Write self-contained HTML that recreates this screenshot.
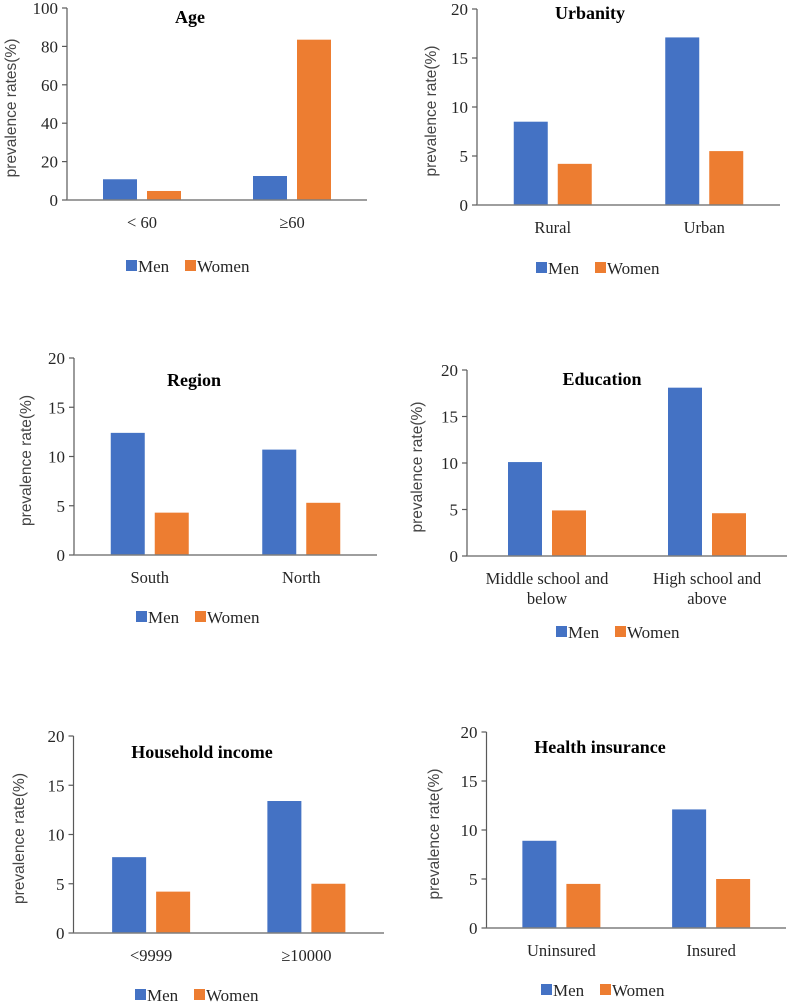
<!DOCTYPE html>
<html><head><meta charset="utf-8">
<style>
html,body{margin:0;padding:0;background:#fff;}
svg{display:block;}
text{font-family:"Liberation Serif",serif;fill:#262626;}
.tick{font-size:17px;}
.cat{font-size:16.5px;}
.ttl{font-size:18px;font-weight:bold;fill:#000;}
.ytl{font-family:"Liberation Sans",sans-serif;font-size:15.5px;fill:#444;}
.leg{font-size:17px;}
</style></head>
<body>
<svg id="fig" width="789" height="1002" viewBox="0 0 789 1002" xmlns="http://www.w3.org/2000/svg"></svg>
<script>
const panelTitles = ["Age","Urbanity","Region","Education","Household income","Health insurance"];
const yTitles = ["prevalence rates(%)","prevalence rate(%)","prevalence rate(%)","prevalence rate(%)","prevalence rate(%)","prevalence rate(%)"];
const categories = [["< 60","≥60"],["Rural","Urban"],["South","North"],[["Middle school and","below"],["High school and","above"]],["<9999","≥10000"],["Uninsured","Insured"]];
const menValues = [[10.8,12.5],[8.5,17.1],[12.4,10.7],[10.1,18.1],[7.7,13.4],[8.9,12.1]];
const womenValues = [[4.7,83.5],[4.2,5.5],[4.3,5.3],[4.9,4.6],[4.2,5.0],[4.5,5.0]];
const yMax = [100,20,20,20,20,20];
const yStep = [20,5,5,5,5,5];

// layout (pixels) per panel
const layout = [
 {l:67,r:367,y0:200,yt:8,title:[190,16],ytx:10,legY:266,legX:127},
 {l:477,r:780,y0:205,yt:9,title:[590,12],ytx:430,legY:268,legX:537},
 {l:74,r:377,y0:555,yt:358,title:[194,379],ytx:25,legY:617,legX:137},
 {l:467,r:787,y0:556,yt:370,title:[602,378],ytx:416,legY:632,legX:557},
 {l:73.5,r:384,y0:933,yt:736,title:[202,751],ytx:18,legY:995,legX:136},
 {l:486.5,r:786,y0:928,yt:732,title:[600,746],ytx:433,legY:990,legX:542}
];
const BLUE="#4472C4", ORANGE="#ED7D31";
const svg=document.getElementById('fig');
const NS="http://www.w3.org/2000/svg";
function mk(tag,attrs,parent){const e=document.createElementNS(NS,tag);for(const k in attrs)e.setAttribute(k,attrs[k]);(parent||svg).appendChild(e);return e;}

panelTitles.forEach((pt,p)=>{
  const L=layout[p];
  const g=mk('g',{});
  
  
  const y=v=>L.y0-(v/yMax[p])*(L.y0-L.yt);
  const band=(L.r-L.l)/categories[p].length;
  const xc=i=>L.l+band*(i+0.5);
  const bw=34, gap=10;
  const ya=mk('line',{x1:L.l,x2:L.l,y1:L.yt,y2:L.y0,stroke:'#595959','stroke-width':1.2},g);
  
  
  for(let v=0;v<=yMax[p];v+=yStep[p]){
    mk('line',{x1:L.l-5,x2:L.l,y1:y(v),y2:y(v),stroke:'#595959','stroke-width':1.2},g);
    const t=mk('text',{x:L.l-9,y:y(v)+6,'text-anchor':'end',class:'tick'},g);
    t.textContent=v;
    
    
  }
  categories[p].forEach((c,i)=>{
    const mv=menValues[p][i], wv=womenValues[p][i];
    const b1=mk('rect',{x:xc(i)-gap/2-bw,y:y(mv),width:bw,height:L.y0-y(mv),fill:BLUE},g);
    
    
    const b2=mk('rect',{x:xc(i)+gap/2,y:y(wv),width:bw,height:L.y0-y(wv),fill:ORANGE},g);
    
    
    const lines=Array.isArray(c)?c:[c];
    lines.forEach((ln,k)=>{
      const t=mk('text',{x:xc(i),y:L.y0+28+k*20,'text-anchor':'middle',class:'cat'},g);
      t.textContent=ln;
      
      
    });
  });
  const xa=mk('line',{x1:L.l,x2:L.r,y1:L.y0,y2:L.y0,stroke:'#7f7f7f','stroke-width':1.5},g);
  
  
  const tt=mk('text',{x:L.title[0],y:L.title[1]+7,'text-anchor':'middle',class:'ttl'},g);
  tt.textContent=pt;
  
  
  const cy=(L.yt+L.y0)/2+4;
  const yt=mk('text',{x:L.ytx+6,y:cy,'text-anchor':'middle',class:'ytl',transform:`rotate(-90 ${L.ytx+6} ${cy})`},g);
  yt.textContent=yTitles[p];
  
  
  const lg=mk('g',{},g);
  
  
  mk('rect',{x:L.legX-1,y:L.legY-6,width:11,height:11,fill:BLUE},lg);
  const lt1=mk('text',{x:L.legX+11,y:L.legY+6,class:'leg'},lg);
  lt1.textContent='Men';
  
  
  mk('rect',{x:L.legX+58,y:L.legY-6,width:11,height:11,fill:ORANGE},lg);
  const lt2=mk('text',{x:L.legX+70,y:L.legY+6,class:'leg'},lg);
  lt2.textContent='Women';
  
  
});
</script>
</body></html>
